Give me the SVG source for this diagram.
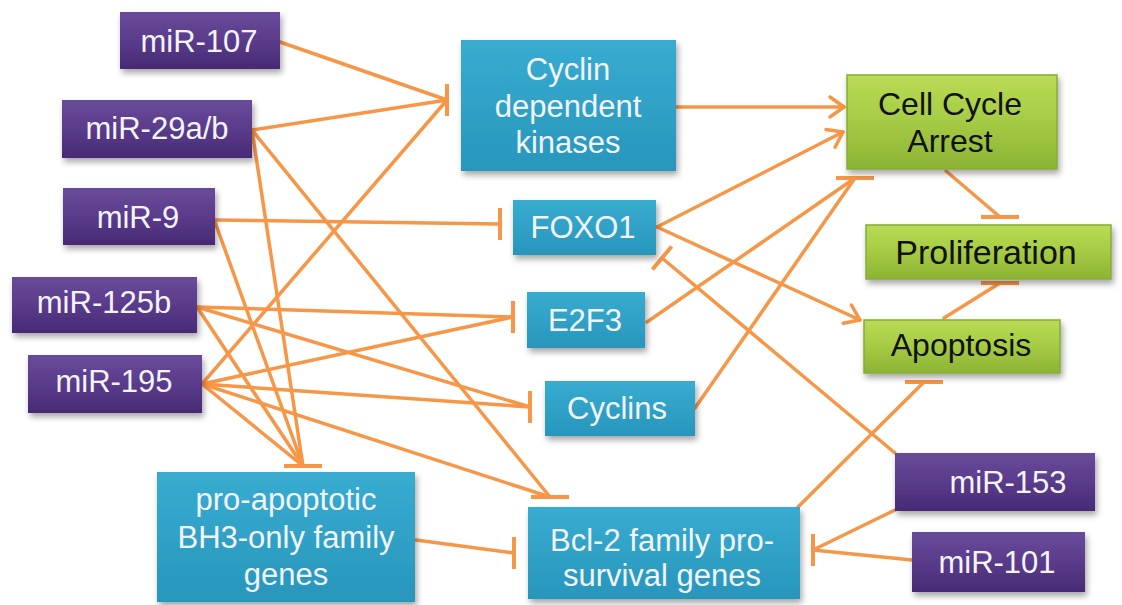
<svg xmlns="http://www.w3.org/2000/svg" width="1122" height="605" viewBox="0 0 1122 605">
<style>
.c{fill:none;stroke:#F79646;stroke-width:3.5;stroke-linecap:round}
.p{fill:url(#gp);filter:url(#sh)}
.b{fill:url(#gb);filter:url(#sh)}
.g{fill:url(#gg);stroke:#86AC34;stroke-width:1.5;filter:url(#sh)}
text{font-family:"Liberation Sans",Arial,sans-serif;text-anchor:middle}
.tw{fill:#F2F4FB;font-size:31px}
.tg{fill:#111;font-size:32px}
</style>
<defs>
<linearGradient id="gp" x1="0" y1="0" x2="0" y2="1"><stop offset="0" stop-color="#6A4B9B"/><stop offset="0.5" stop-color="#5A3B8B"/><stop offset="1" stop-color="#472A75"/></linearGradient>
<linearGradient id="gb" x1="0" y1="0" x2="0" y2="1"><stop offset="0" stop-color="#38ACD0"/><stop offset="1" stop-color="#2896BC"/></linearGradient>
<linearGradient id="gg" x1="0" y1="0" x2="0" y2="1"><stop offset="0" stop-color="#BADB55"/><stop offset="0.5" stop-color="#A5CB44"/><stop offset="1" stop-color="#8CB334"/></linearGradient>
<filter id="sh" x="-10%" y="-10%" width="125%" height="135%"><feDropShadow dx="2" dy="4" stdDeviation="3" flood-color="#000" flood-opacity="0.35"/></filter>
<marker id="tv" markerUnits="userSpaceOnUse" markerWidth="10" markerHeight="40" refX="5" refY="20" orient="0" overflow="visible"><path d="M5,4 V36" stroke="#F79646" stroke-width="4"/></marker>
<marker id="th" markerUnits="userSpaceOnUse" markerWidth="44" markerHeight="10" refX="22" refY="5" orient="0" overflow="visible"><path d="M3,5 H41" stroke="#F79646" stroke-width="4"/></marker>
<marker id="ta" markerUnits="userSpaceOnUse" markerWidth="10" markerHeight="40" refX="5" refY="20" orient="auto" overflow="visible"><path d="M5,5 V35" stroke="#F79646" stroke-width="4"/></marker>
<marker id="ar" markerUnits="userSpaceOnUse" markerWidth="22" markerHeight="26" refX="18" refY="13" orient="auto" overflow="visible"><path d="M4,3 L18,13 L4,23" fill="none" stroke="#F79646" stroke-width="3.5" stroke-linecap="round" stroke-linejoin="round"/></marker>
</defs>
<rect width="1122" height="605" fill="#fff"/>
<g id="connectors">
<line class="c" x1="280" y1="42" x2="447" y2="100" marker-end="url(#tv)"/>
<line class="c" x1="252" y1="130" x2="447" y2="100" marker-end="url(#tv)"/>
<line class="c" x1="202" y1="384" x2="447" y2="100" marker-end="url(#tv)"/>
<line class="c" x1="252" y1="130" x2="303" y2="466" marker-end="url(#th)"/>
<line class="c" x1="252" y1="130" x2="550" y2="497" marker-end="url(#th)"/>
<line class="c" x1="215" y1="220" x2="500" y2="224" marker-end="url(#tv)"/>
<line class="c" x1="215" y1="222" x2="303" y2="466" marker-end="url(#th)"/>
<line class="c" x1="197" y1="307" x2="513" y2="317" marker-end="url(#tv)"/>
<line class="c" x1="197" y1="307" x2="530" y2="407" marker-end="url(#tv)"/>
<line class="c" x1="197" y1="307" x2="303" y2="466" marker-end="url(#th)"/>
<line class="c" x1="202" y1="384" x2="513" y2="317" marker-end="url(#tv)"/>
<line class="c" x1="202" y1="384" x2="530" y2="407" marker-end="url(#tv)"/>
<line class="c" x1="202" y1="384" x2="550" y2="497" marker-end="url(#th)"/>
<line class="c" x1="202" y1="384" x2="303" y2="466" marker-end="url(#th)"/>
<line class="c" x1="676" y1="107" x2="844" y2="107" marker-end="url(#ar)"/>
<line class="c" x1="657" y1="227" x2="843" y2="132" marker-end="url(#ar)"/>
<line class="c" x1="657" y1="227" x2="860" y2="320" marker-end="url(#ar)"/>
<line class="c" x1="647" y1="322" x2="855" y2="178" marker-end="url(#th)"/>
<line class="c" x1="695" y1="408" x2="855" y2="178" marker-end="url(#th)"/>
<line class="c" x1="946" y1="171" x2="1000" y2="217" marker-end="url(#th)"/>
<line class="c" x1="944" y1="318" x2="1000" y2="283" marker-end="url(#th)"/>
<line class="c" x1="798" y1="507" x2="924" y2="382" marker-end="url(#th)"/>
<line class="c" x1="895" y1="453" x2="662" y2="258" marker-end="url(#ta)"/>
<line class="c" x1="895" y1="510" x2="813" y2="550" marker-end="url(#tv)"/>
<line class="c" x1="912" y1="560" x2="813" y2="550" marker-end="url(#tv)"/>
<line class="c" x1="416" y1="540" x2="514" y2="553" marker-end="url(#tv)"/>
</g>
<g id="miR-107"><rect class="p" x="120" y="12" width="160" height="57"/><text class="tw" x="199" y="52">miR-107</text></g>
<g id="miR-29ab"><rect class="p" x="62" y="100" width="190" height="58"/><text class="tw" x="157" y="139">miR-29a/b</text></g>
<g id="miR-9"><rect class="p" x="63" y="188" width="152" height="57"/><text class="tw" x="138" y="228">miR-9</text></g>
<g id="miR-125b"><rect class="p" x="12" y="277" width="185" height="56"/><text class="tw" x="104" y="313">miR-125b</text></g>
<g id="miR-195"><rect class="p" x="28" y="355" width="174" height="58"/><text class="tw" x="114" y="392">miR-195</text></g>
<g id="miR-153"><rect class="p" x="895" y="453" width="200" height="58"/><text class="tw" x="1008" y="493">miR-153</text></g>
<g id="miR-101"><rect class="p" x="912" y="532" width="173" height="60"/><text class="tw" x="997" y="573">miR-101</text></g>
<g id="cdk"><rect class="b" x="461" y="40" width="215" height="131"/><text class="tw" x="568" y="80">Cyclin</text><text class="tw" x="568" y="117">dependent</text><text class="tw" x="568" y="153">kinases</text></g>
<g id="foxo1"><rect class="b" x="513" y="200" width="143" height="55"/><text class="tw" x="583" y="238">FOXO1</text></g>
<g id="e2f3"><rect class="b" x="527" y="292" width="118" height="56"/><text class="tw" x="585" y="331">E2F3</text></g>
<g id="cyclins"><rect class="b" x="545" y="381" width="150" height="55"/><text class="tw" x="617" y="419">Cyclins</text></g>
<g id="bh3"><rect class="b" x="157" y="472" width="258" height="130"/><text class="tw" x="286" y="510">pro-apoptotic</text><text class="tw" x="286" y="548">BH3-only family</text><text class="tw" x="286" y="585">genes</text></g>
<g id="bcl2"><rect class="b" x="528" y="507" width="272" height="92"/><text class="tw" x="662" y="551">Bcl-2 family pro-</text><text class="tw" x="662" y="586">survival genes</text></g>
<g id="cellcycle"><rect class="g" x="847" y="75" width="210" height="94"/><text class="tg" x="950" y="115">Cell Cycle</text><text class="tg" x="950" y="152">Arrest</text></g>
<g id="proliferation"><rect class="g" x="866" y="225" width="245" height="54"/><text class="tg" x="986" y="264" style="font-size:34px">Proliferation</text></g>
<g id="apoptosis"><rect class="g" x="864" y="320" width="196" height="53"/><text class="tg" x="961" y="356">Apoptosis</text></g>
</svg>
